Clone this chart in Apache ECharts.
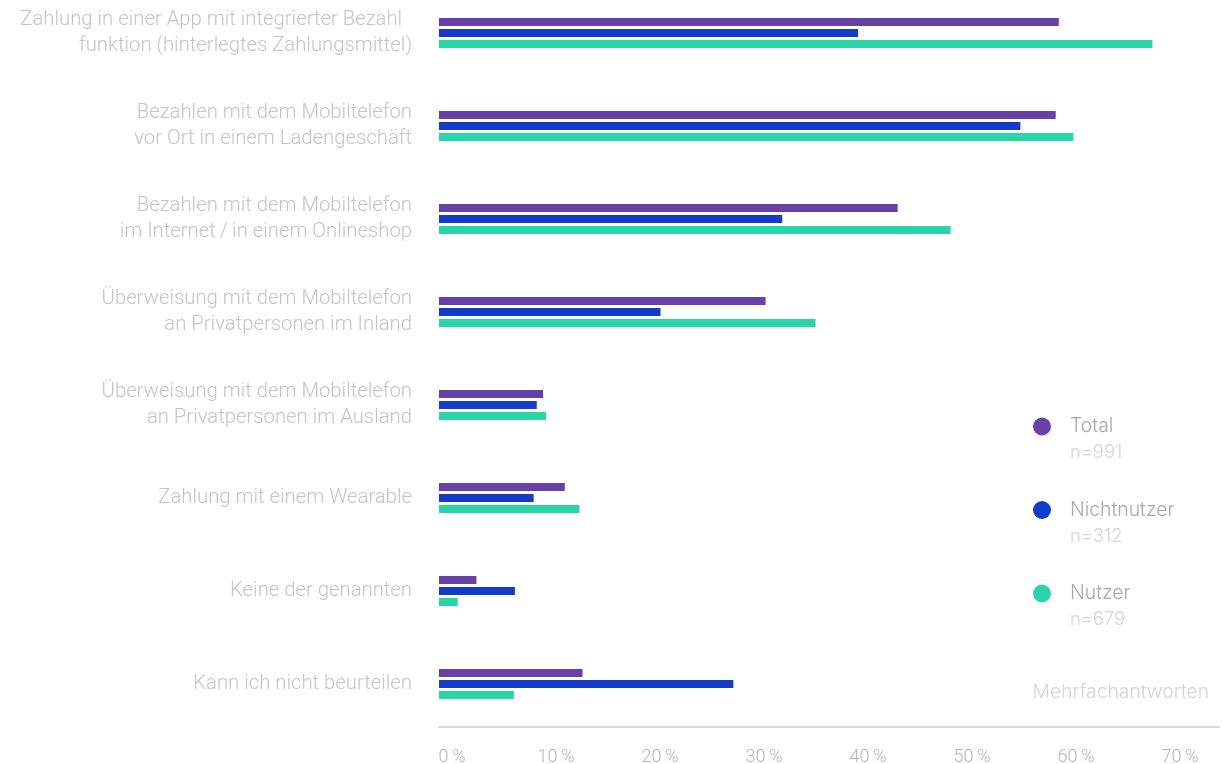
<!DOCTYPE html>
<html>
<head>
<meta charset="utf-8">
<script src="https://cdn.jsdelivr.net/npm/echarts@6/dist/echarts.min.js"></script>
<style>
html,body{margin:0;padding:0;background:#fff;}
#chart{width:1227px;height:764px;}
</style>
</head>
<body>
<div id="chart"></div>
<script>
const categories = [
  'Zahlung in einer App mit integrierter Bezahl\u00a0\u00a0\nfunktion (hinterlegtes Zahlungsmittel)',
  'Bezahlen mit dem Mobiltelefon\nvor Ort in einem Ladengeschäft',
  'Bezahlen mit dem Mobiltelefon\nim Internet\u2009/\u2009in einem Onlineshop',
  'Überweisung mit dem Mobiltelefon\nan Privatpersonen im Inland',
  'Überweisung mit dem Mobiltelefon\nan Privatpersonen im Ausland',
  'Zahlung mit einem Wearable',
  'Keine der genannten',
  'Kann ich nicht beurteilen'
];
const seriesNames = ['Total', 'Nichtnutzer', 'Nutzer'];
const sampleSizes = ['n=991', 'n=312', 'n=679'];
const totalValues = [59.6, 59.3, 44.1, 31.4, 10.0, 12.1, 3.6, 13.8];
const nichtnutzerValues = [40.3, 55.9, 33.0, 21.3, 9.4, 9.1, 7.3, 28.3];
const nutzerValues = [68.6, 61.0, 49.2, 36.2, 10.3, 13.5, 1.8, 7.2];
const xTickLabels = ['0\u2009%', '10\u2009%', '20\u2009%', '30\u2009%', '40\u2009%', '50\u2009%', '60\u2009%', '70\u2009%'];
const noteText = 'Mehrfachantworten';

const colors = ['#6841A8', '#153BCB', '#29D5A7'];
const chart = echarts.init(document.getElementById('chart'), null, {renderer: 'canvas'});
const sizeByName = {};
seriesNames.forEach((n, i) => sizeByName[n] = sampleSizes[i]);

const option = {
  animation: false,
  color: colors,
  grid: {left: 439, right: 8, top: -13.5, bottom: 33.5, containLabel: false, outerBoundsMode: 'none'},
  xAxis: {
    type: 'value', min: 0, max: 75, interval: 10,
    offset: -4,
    splitLine: {show: false},
    axisTick: {show: false},
    axisLine: {show: true, lineStyle: {color: '#d9d9d9', width: 2}},
    axisLabel: {
      margin: 22, color: '#b4b4b4', fontFamily: 'Roboto', fontWeight: 300, fontSize: 18,
      padding: [0, 0, 0, 26],
      showMaxLabel: false,
      formatter: v => (v % 10 === 0 && v / 10 < xTickLabels.length) ? xTickLabels[v / 10] : ''
    }
  },
  yAxis: {
    type: 'category', data: categories, inverse: true,
    axisLine: {show: false}, axisTick: {show: false}, splitLine: {show: false},
    axisLabel: {
      margin: 27, color: '#c4c4c4', fontFamily: 'Roboto', fontWeight: 300, fontSize: 20.3,
      lineHeight: 26, align: 'right'
    }
  },
  legend: {
    orient: 'vertical', left: 1028, top: 412, itemGap: 39,
    icon: 'circle', itemWidth: 18, itemHeight: 18,
    data: seriesNames,
    formatter: name => '{a|' + name + '}\n{b|' + sizeByName[name] + '}',
    textStyle: {
      padding: [26, 0, 0, 14],
      rich: {
        a: {color: '#a9a9a9', fontFamily: 'Inter', fontWeight: 300, fontSize: 19.4, lineHeight: 26},
        b: {color: '#d3d3db', fontFamily: 'Inter', fontWeight: 300, fontSize: 18.4, lineHeight: 26}
      }
    }
  },
  graphic: [{
    type: 'text', right: 18, top: 683,
    style: {text: noteText, fill: '#d3d3db', font: '300 19.3px Inter'}
  }],
  series: [
    {name: seriesNames[0], type: 'bar', data: totalValues, barWidth: 8, barGap: '37.5%'},
    {name: seriesNames[1], type: 'bar', data: nichtnutzerValues, barWidth: 8, barGap: '37.5%'},
    {name: seriesNames[2], type: 'bar', data: nutzerValues, barWidth: 8, barGap: '37.5%'}
  ]
};
chart.setOption(option);
</script>
</body>
</html>
